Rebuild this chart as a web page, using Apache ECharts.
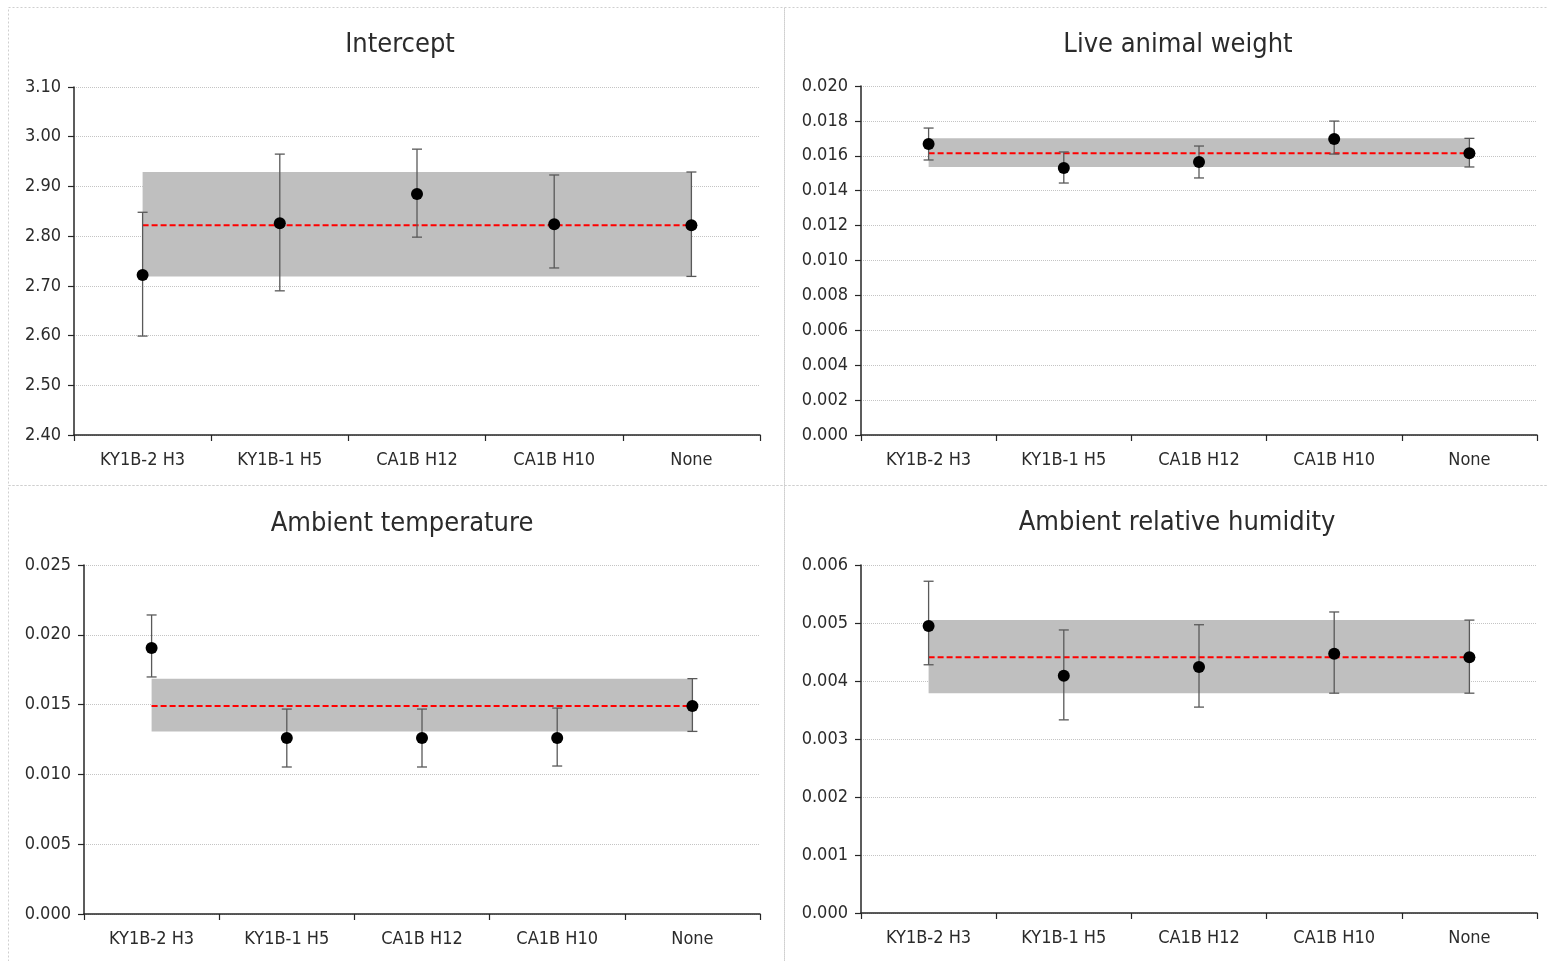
<!DOCTYPE html>
<html>
<head>
<meta charset="utf-8">
<script src="https://cdn.jsdelivr.net/npm/echarts@6/dist/echarts.min.js"></script>
<style>
  html, body { margin: 0; padding: 0; background: #fff; }
  #chart { width: 1547px; height: 961px; }
</style>
</head>
<body>
<div id="chart"></div>
<script>
// Categories shared by all four panels
const categories = ['KY1B-2 H3', 'KY1B-1 H5', 'CA1B H12', 'CA1B H10', 'None'];

// Intercept: estimate with lower / upper interval
const interceptEst  = [2.722, 2.826, 2.885, 2.824, 2.822];
const interceptLow  = [2.599, 2.690, 2.798, 2.736, 2.719];
const interceptHigh = [2.848, 2.965, 2.975, 2.923, 2.929];

// Live animal weight
const weightEst  = [0.01668, 0.01530, 0.01564, 0.01696, 0.01614];
const weightLow  = [0.01576, 0.01444, 0.01473, 0.01610, 0.01536];
const weightHigh = [0.01759, 0.01622, 0.01656, 0.01799, 0.01700];

// Ambient temperature
const tempEst  = [0.01905, 0.01261, 0.01261, 0.01261, 0.01490];
const tempLow  = [0.01698, 0.01053, 0.01053, 0.01060, 0.01308];
const tempHigh = [0.02142, 0.01468, 0.01468, 0.01475, 0.01686];

// Ambient relative humidity
const humidEst  = [0.00495, 0.00409, 0.00424, 0.00447, 0.00441];
const humidLow  = [0.00428, 0.00333, 0.00355, 0.00379, 0.00379];
const humidHigh = [0.00572, 0.00488, 0.00497, 0.00519, 0.00505];

// Y-axis tick settings per panel
const yTicks = [
  { min: 2.4, max: 3.1, interval: 0.1, decimals: 2 },
  { min: 0, max: 0.020, interval: 0.002, decimals: 3 },
  { min: 0, max: 0.025, interval: 0.005, decimals: 3 },
  { min: 0, max: 0.006, interval: 0.001, decimals: 3 }
];

const panelTitles = ['Intercept', 'Live animal weight', 'Ambient temperature', 'Ambient relative humidity'];
const panelData = [
  [interceptEst, interceptLow, interceptHigh],
  [weightEst, weightLow, weightHigh],
  [tempEst, tempLow, tempHigh],
  [humidEst, humidLow, humidHigh]
];

const FONT = '"Liberation Sans Narrow", "DejaVu Sans Condensed", "Open Sans", sans-serif';
const TEXT = '#2b2b2b';

const gridBoxes = [
  { left: 74,  top: 87,  width: 686, height: 348 },
  { left: 861, top: 86,  width: 676, height: 349 },
  { left: 84,  top: 565, width: 676, height: 349 },
  { left: 861, top: 565, width: 676, height: 348 }
];
const titlePos = [
  { x: 395, y: 26 }, { x: 1173, y: 26 }, { x: 397, y: 505 }, { x: 1172, y: 504 }
];

const grid = [], xAxis = [], yAxis = [], series = [], title = [];

gridBoxes.forEach((g, i) => {
  grid.push(Object.assign({ containLabel: false }, g));
  title.push({
    text: panelTitles[i],
    left: titlePos[i].x,
    top: titlePos[i].y,
    textAlign: 'center',
    textStyle: { fontFamily: FONT, fontSize: 27, fontWeight: 'normal', color: TEXT }
  });
  xAxis.push({
    type: 'category',
    gridIndex: i,
    data: categories,
    boundaryGap: true,
    axisLine: { lineStyle: { color: '#262626', width: 1.5 } },
    axisTick: { show: true, length: 6, lineStyle: { color: '#262626', width: 1.2 } },
    axisLabel: { fontFamily: FONT, fontSize: 18, color: TEXT, margin: 16 },
    splitLine: { show: false }
  });
  const t = yTicks[i];
  yAxis.push({
    type: 'value',
    gridIndex: i,
    min: t.min, max: t.max, interval: t.interval,
    axisLine: { show: true, lineStyle: { color: '#262626', width: 1.5 } },
    axisTick: { show: true, length: 6, lineStyle: { color: '#262626', width: 1.2 } },
    axisLabel: {
      fontFamily: FONT, fontSize: 18, color: TEXT, margin: 13,
      formatter: v => v.toFixed(t.decimals)
    },
    splitLine: { show: true, lineStyle: { color: '#c4c4c4', type: 'dotted', width: 1 } }
  });

  const [est, low, high] = panelData[i];
  const ref = categories.length - 1; // "None" is the reference group

  // Reference estimate (dashed red) with its interval shaded behind
  series.push({
    type: 'line',
    xAxisIndex: i, yAxisIndex: i,
    data: categories.map(() => est[ref]),
    showSymbol: false,
    silent: true,
    z: 2,
    lineStyle: { color: '#ff0000', width: 2, type: [6, 3] },
    markArea: {
      silent: true,
      itemStyle: { color: '#bfbfbf', opacity: 1 },
      data: [[
        { xAxis: categories[0], yAxis: low[ref] },
        { xAxis: categories[ref], yAxis: high[ref] }
      ]]
    }
  });

  // Interval whiskers
  series.push({
    type: 'custom',
    xAxisIndex: i, yAxisIndex: i,
    z: 3,
    data: categories.map((c, k) => [k, low[k], high[k]]),
    encode: { x: 0, y: [1, 2] },
    renderItem: (params, api) => {
      const k = api.value(0);
      const lo = api.coord([k, api.value(1)]);
      const hi = api.coord([k, api.value(2)]);
      const cap = 5;
      const style = { stroke: '#595959', lineWidth: 1.3 };
      return {
        type: 'group',
        children: [
          { type: 'line', shape: { x1: lo[0], y1: lo[1], x2: hi[0], y2: hi[1] }, style },
          { type: 'line', shape: { x1: hi[0] - cap, y1: hi[1], x2: hi[0] + cap, y2: hi[1] }, style },
          { type: 'line', shape: { x1: lo[0] - cap, y1: lo[1], x2: lo[0] + cap, y2: lo[1] }, style }
        ]
      };
    }
  });

  // Point estimates
  series.push({
    type: 'scatter',
    xAxisIndex: i, yAxisIndex: i,
    z: 4,
    data: est,
    symbol: 'circle',
    symbolSize: 12,
    itemStyle: { color: '#000000', opacity: 1 }
  });
});

// Dotted panel frames
const frameStyle = { stroke: '#cfcfcf', fill: 'none', lineWidth: 1, lineDash: [2, 2] };
const frames = [
  { x: 8.5, y: 7.5, width: 776, height: 478 },
  { x: 784.5, y: 7.5, width: 770, height: 478 },
  { x: 8.5, y: 485.5, width: 776, height: 490 },
  { x: 784.5, y: 485.5, width: 770, height: 490 }
].map(s => ({ type: 'rect', silent: true, shape: s, style: frameStyle }));

const chart = echarts.init(document.getElementById('chart'), null, { renderer: 'canvas' });
chart.setOption({
  backgroundColor: '#ffffff',
  animation: false,
  title, grid, xAxis, yAxis, series,
  graphic: frames
});
</script>
</body>
</html>
